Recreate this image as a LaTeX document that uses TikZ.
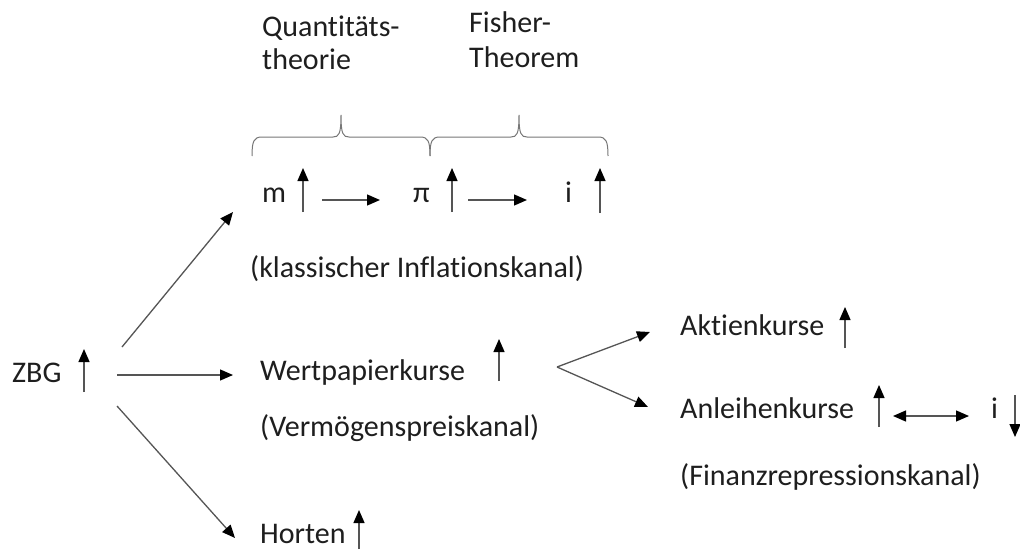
\documentclass[tikz,border=0pt]{standalone}
\usepackage{fontspec}
\setmainfont{Carlito}[Ligatures=NoCommon]
\usetikzlibrary{arrows.meta}
\definecolor{txtgray}{HTML}{1E1E1E}
\definecolor{linegray}{HTML}{555555}

\begin{document}
\begin{tikzpicture}[x=1pt,y=-1pt,
  lbl/.style={anchor=base west, inner sep=0pt, text=txtgray, font=\fontsize{30}{33}\selectfont},
  tip/.style={Triangle[length=13pt,width=11pt,color=black]},
  conn/.style={draw=linegray, line width=1.3pt, -{Triangle[length=13pt,width=11pt,color=black]}},
  twoway/.style={draw=linegray, line width=1.3pt, {Triangle[length=13pt,width=11pt,color=black]}-{Triangle[length=13pt,width=11pt,color=black]}},
  bracecol/.style={draw=linegray!80, line width=1pt}]
    \useasboundingbox (0,0) rectangle (1020,551);

    % headings over the braces
    \node[lbl] (quanta) at (262,37) {Quantitäts-};
    \node[lbl] (quantb) at (262,70) {theorie};
    \node[lbl] (fishera) at (469,33) {Fisher-};
    \node[lbl] (fisherb) at (469,67) {Theorem};

    % braces
    \foreach \a/\b in {252/430,430/608}{
        \pgfmathsetmacro\c{(\a+\b)/2}
        \draw[bracecol] (\a,156) .. controls (\a,141) and (\a+2,137) .. (\a+10,137) -- (\c-8,137)
            .. controls (\c-2,137) and (\c,134) .. (\c,115)
            .. controls (\c,134) and (\c+2,137) .. (\c+8,137) -- (\b-10,137)
            .. controls (\b-2,137) and (\b,141) .. (\b,156);
    }

    % text nodes
    \node[lbl] (m) at (262,202) {m};
    \node[lbl] (pi) at (413,202) {π};
    \node[lbl] (iq) at (565,202) {i};
    \node[lbl] (klass) at (250,277) {(klassischer Inflationskanal)};
    \node[lbl] (zbg) at (12,382) {ZBG};
    \node[lbl] (wp) at (260,380) {Wertpapierkurse};
    \node[lbl] (verm) at (260,436) {(Vermögenspreiskanal)};
    \node[lbl] (horten) at (260,543) {Horten};
    \node[lbl] (aktien) at (680,335) {Aktienkurse};
    \node[lbl] (anleihen) at (680,418) {Anleihenkurse};
    \node[lbl] (ianl) at (991,418) {i};
    \node[lbl] (finanz) at (680,485) {(Finanzrepressionskanal)};

    % ends of the connectors
    \coordinate (zup) at (122,347);
    \coordinate (zmid) at (117,375);
    \coordinate (zdown) at (117,406);
    \coordinate (inup) at (233,212);
    \coordinate (inmid) at (233,375);
    \coordinate (indown) at (235,538);
    \coordinate (mout) at (322,200);
    \coordinate (piin) at (380,200);
    \coordinate (piout) at (468,200);
    \coordinate (iin) at (527,200);
    \coordinate (fork) at (557,367);
    \coordinate (akin) at (650,332);
    \coordinate (anin) at (648,407);
    \coordinate (anout) at (893,416);
    \coordinate (iinb) at (969,416);

    \draw[conn] (zup) -- (inup);
    \draw[conn] (zmid) -- (inmid);
    \draw[conn] (zdown) -- (indown);
    \draw[conn] (mout) -- (piin);
    \draw[conn] (piout) -- (iin);
    \draw[conn] (fork) -- (akin);
    \draw[conn] (fork) -- (anin);
    \draw[twoway] (anout) -- (iinb);

    % up and down marks
    \foreach \x/\yb/\yt in {84/392/349, 303/212/168, 452/212/168, 600/213/168, 499/381/339, 845/348/307, 879/427/385, 359/549/510}{
        \draw[conn] (\x,\yb) -- (\x,\yt);
    }
    \draw[conn] (1015,395) -- (1015,437);
\end{tikzpicture}
\end{document}
